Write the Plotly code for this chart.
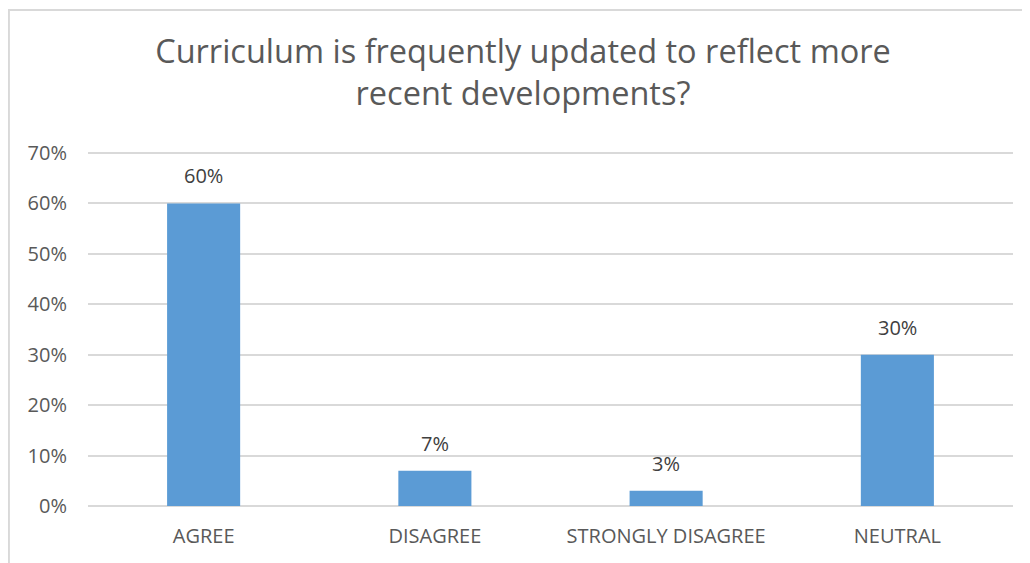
import plotly.graph_objects as go

categories = ["AGREE", "DISAGREE", "STRONGLY DISAGREE", "NEUTRAL"]
shares = [0.60, 0.07, 0.03, 0.30]
labels = ["60%", "7%", "3%", "30%"]
y_ticks = [0, 0.1, 0.2, 0.3, 0.4, 0.5, 0.6, 0.7]
y_tick_text = ["0%", "10%", "20%", "30%", "40%", "50%", "60%", "70%"]

fig = go.Figure(go.Bar(
    x=categories,
    y=shares,
    marker=dict(color="#5B9BD5", line=dict(width=0)),
    hoverinfo="x+y",
))

# value labels above the bars
for cat, val, lab in zip(categories, shares, labels):
    fig.add_annotation(
        x=cat, y=val, text=lab,
        showarrow=False, yanchor="bottom", yshift=12,
        font=dict(size=20, color="#404040"),
    )

# the page body adds an 8px offset, so margins are shifted to compensate
fig.update_layout(
    width=1030,
    height=563,
    paper_bgcolor="white",
    plot_bgcolor="white",
    font=dict(family="Open Sans", color="#595959"),
    title=dict(
        text="Curriculum is frequently updated to reflect more<br>recent developments?",
        x=0.5, xanchor="center",
        yref="container", y=0.903, yanchor="top",
        font=dict(size=32.5, color="#595959"),
    ),
    margin=dict(l=80, r=25, t=144, b=65),
    bargap=0.684,
    showlegend=False,
    xaxis=dict(
        showgrid=False, showline=False, ticks="",
        ticklabelstandoff=16,
        tickfont=dict(size=20, color="#595959"),
    ),
    yaxis=dict(
        range=[0, 0.702],
        tickvals=y_ticks,
        ticktext=y_tick_text,
        showgrid=True, gridcolor="#D9D9D9", gridwidth=1.5,
        zeroline=True, zerolinecolor="#D9D9D9", zerolinewidth=1.5,
        showline=False, ticks="",
        ticklabelstandoff=20,
        tickfont=dict(size=20, color="#595959"),
    ),
)

# outer chart frame (cropped at right and bottom, as in the reference)
fig.add_shape(
    type="rect", xref="paper", yref="paper",
    x0=-0.0855, x1=1.05, y0=-0.3, y1=1.401,
    line=dict(color="#D9D9D9", width=2),
)

fig.write_html("out.html")
